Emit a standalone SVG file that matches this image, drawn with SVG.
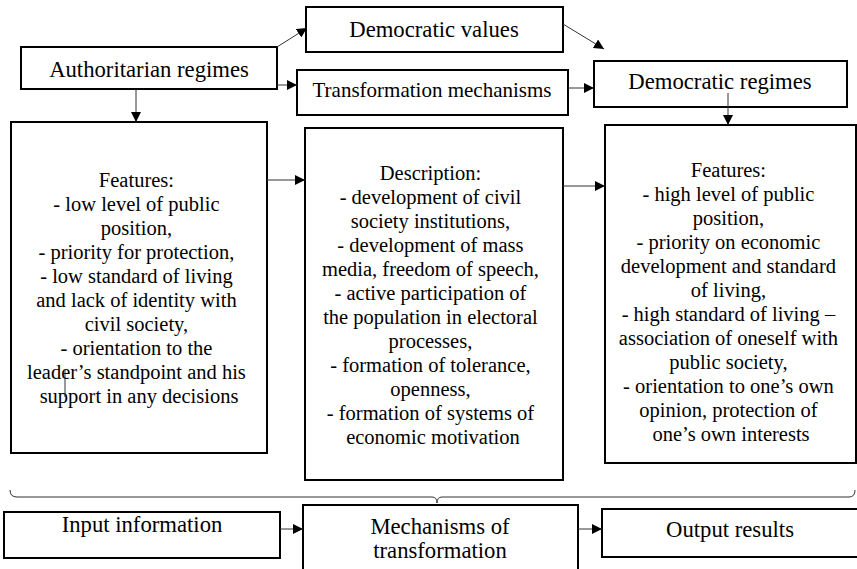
<svg xmlns="http://www.w3.org/2000/svg" width="857" height="569" viewBox="0 0 857 569">
<defs>
<marker id="ah" viewBox="0 0 10 10" refX="10" refY="5" markerWidth="10" markerHeight="10" markerUnits="userSpaceOnUse" orient="auto">
<path d="M0,0 L10,5 L0,10 Z" fill="#000"/>
</marker>
</defs>
<style>
text{font-family:'Liberation Serif','Times New Roman',Tinos,Times,'DejaVu Serif','Noto Serif',serif;fill:#000;text-anchor:middle}
.box{fill:#fff;stroke:#000;stroke-width:2}
.hd{font-size:22.7px}
.tm{font-size:21px}
.bd{font-size:20.5px}
.cn{fill:none;stroke:#333;stroke-width:1}
.ar{marker-end:url(#ah)}
</style>
<rect width="857" height="569" fill="#fff"/>

<g id="authoritarian">
<rect class="box" x="21" y="47" width="256" height="42"/>
<text class="hd" x="149" y="77">Authoritarian regimes</text>
</g>
<g id="democratic-values">
<rect class="box" x="306" y="7" width="257" height="45"/>
<text class="hd" x="434" y="37">Democratic values</text>
</g>
<g id="transformation-mechanisms">
<rect class="box" x="297" y="70" width="271" height="45"/>
<text class="tm" x="432" y="97">Transformation mechanisms</text>
</g>
<g id="democratic-regimes">
<rect class="box" x="594" y="61" width="253" height="46"/>
<text class="hd" x="720" y="89">Democratic regimes</text>
</g>

<g id="auth-features">
<rect class="box" x="11" y="122" width="256" height="331"/>
<text class="bd">
<tspan x="139" y="187">Features:</tspan>
<tspan x="139" y="211">- low level of public</tspan>
<tspan x="139" y="235">position,</tspan>
<tspan x="139" y="259">- priority for protection,</tspan>
<tspan x="139" y="283">- low standard of living</tspan>
<tspan x="139" y="307">and lack of identity with</tspan>
<tspan x="139" y="331">civil society,</tspan>
<tspan x="139" y="355">- orientation to the</tspan>
<tspan x="139" y="379">leader’s standpoint and his</tspan>
<tspan x="139" y="403">support in any decisions</tspan>
</text>
</g>
<g id="description">
<rect class="box" x="305" y="128" width="258" height="352"/>
<text class="bd">
<tspan x="433" y="180">Description:</tspan>
<tspan x="433" y="204">- development of civil</tspan>
<tspan x="433" y="228">society institutions,</tspan>
<tspan x="433" y="252">- development of mass</tspan>
<tspan x="433" y="276">media, freedom of speech,</tspan>
<tspan x="433" y="300">- active participation of</tspan>
<tspan x="433" y="324">the population in electoral</tspan>
<tspan x="433" y="348">processes,</tspan>
<tspan x="433" y="372">- formation of tolerance,</tspan>
<tspan x="433" y="396">openness,</tspan>
<tspan x="433" y="420">- formation of systems of</tspan>
<tspan x="433" y="444">economic motivation</tspan>
</text>
</g>
<g id="dem-features">
<rect class="box" x="605" y="125" width="251" height="338"/>
<text class="bd">
<tspan x="731" y="177">Features:</tspan>
<tspan x="731" y="201">- high level of public</tspan>
<tspan x="731" y="225">position,</tspan>
<tspan x="731" y="249">- priority on economic</tspan>
<tspan x="731" y="273">development and standard</tspan>
<tspan x="731" y="297">of living,</tspan>
<tspan x="731" y="321">- high standard of living –</tspan>
<tspan x="731" y="345">association of oneself with</tspan>
<tspan x="731" y="369">public society,</tspan>
<tspan x="731" y="393">- orientation to one’s own</tspan>
<tspan x="731" y="417">opinion, protection of</tspan>
<tspan x="731" y="441">one’s own interests</tspan>
</text>
</g>

<g id="input">
<rect class="box" x="4" y="512" width="276" height="46"/>
<text class="hd" x="142" y="532">Input information</text>
</g>
<g id="mechanisms">
<rect class="box" x="303" y="505" width="275" height="72"/>
<text class="hd"><tspan x="440" y="534">Mechanisms of</tspan><tspan x="440" y="558">transformation</tspan></text>
</g>
<g id="output">
<rect class="box" x="602" y="509" width="256" height="48"/>
<text class="hd" x="730" y="537">Output results</text>
</g>

<g id="connectors">
<line class="cn ar" x1="277" y1="47" x2="307" y2="28"/>
<line class="cn ar" x1="563" y1="24" x2="604" y2="49"/>
<line class="cn ar" x1="277" y1="85" x2="297" y2="85"/>
<line class="cn ar" x1="568" y1="88" x2="594" y2="88"/>
<line class="cn ar" x1="136" y1="89" x2="136" y2="122"/>
<line class="cn ar" x1="728" y1="93" x2="728" y2="125"/>
<line class="cn ar" x1="267" y1="180" x2="305" y2="180"/>
<line class="cn ar" x1="563" y1="186" x2="605" y2="186"/>
<line class="cn" x1="65" y1="370" x2="65" y2="397"/>
<path class="cn" d="M10,490 Q10,497 17,497 L432,497 Q437,497 437,503 Q437,497 442,497 L849,497 Q855,497 855,490"/>
<line class="cn ar" x1="280" y1="529" x2="303" y2="529"/>
<line class="cn ar" x1="578" y1="529" x2="602" y2="529"/>
</g>
</svg>
